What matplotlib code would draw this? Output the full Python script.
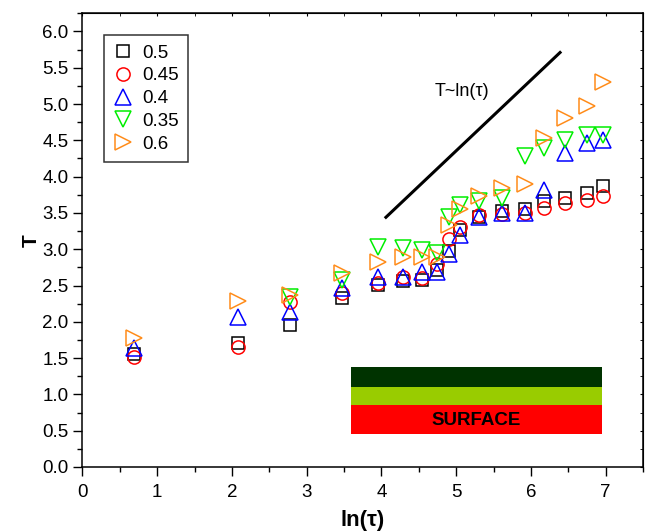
import numpy as np
import matplotlib.pyplot as plt
from matplotlib.patches import Rectangle
from matplotlib.ticker import MultipleLocator

plt.rcParams['font.family'] = ['Liberation Sans', 'DejaVu Sans']

# ln(tau) positions shared by every series
ln_tau = [0.69, 2.08, 2.77, 3.47, 3.95, 4.29, 4.54, 4.75, 4.91, 5.05,
          5.30, 5.61, 5.92, 6.17, 6.46, 6.75, 6.97]

nan = np.nan
T_050 = [1.55, 1.71, 1.96, 2.33, 2.51, 2.56, 2.57, 2.72, 2.97, 3.26,
         3.45, 3.52, 3.56, 3.66, 3.71, 3.77, 3.87]
T_045 = [1.51, 1.65, 2.27, 2.40, 2.54, 2.62, 2.60, 2.80, 3.14, 3.31,
         3.47, 3.48, 3.50, 3.57, 3.64, 3.68, 3.74]
T_040 = [1.64, 2.07, 2.14, 2.46, 2.62, 2.62, 2.69, 2.69, 2.94, 3.19,
         3.45, 3.50, 3.50, 3.81, 4.33, 4.46, 4.51]
T_035 = [nan, nan, 2.34, 2.58, 3.03, 3.02, 2.99, 2.95, 3.44, 3.61,
         3.67, 3.71, 4.28, 4.40, 4.51, 4.57, 4.58]
T_060 = [1.78, 2.28, 2.37, 2.67, 2.82, 2.89, 2.89, 2.89, 3.34, 3.55,
         3.74, 3.85, 3.90, 4.53, 4.81, 4.97, 5.30]

labels = ['0.5', '0.45', '0.4', '0.35', '0.6']

# guide line for T ~ ln(tau)
guide_x = [4.06, 6.39]
guide_y = [3.44, 5.71]

# layered surface sketch: (bottom, top, colour)
layers_x = [3.59, 6.95]
layers = [(0.455, 0.855, '#ff0000'),
          (0.855, 1.108, '#99cc00'),
          (1.108, 1.383, '#003300')]

fig = plt.figure(figsize=(6.48, 5.32), dpi=100)
ax = fig.add_axes([0.1273, 0.1222, 0.8650, 0.8528])

styles = [('s', 'black', 8.5), ('o', 'red', 9.5), ('^', 'blue', 11),
          ('v', '#00ee00', 11), ('>', '#ff8c1a', 11)]
series = [T_050, T_045, T_040, T_035, T_060]
for T, (m, c, ms), lab in zip(series, styles, labels):
    ax.plot(ln_tau, T, linestyle='none', marker=m, markersize=ms,
            markerfacecolor='none', markeredgecolor=c,
            markeredgewidth=1.1, label=lab)

ax.plot(guide_x, guide_y, color='black', linewidth=2.2)
ax.text(5.08, 5.17, 'T~ln(\u03c4)', fontsize=13, ha='center', va='center')

for y0, y1, col in layers:
    ax.add_patch(Rectangle((layers_x[0], y0), layers_x[1] - layers_x[0],
                           y1 - y0, facecolor=col, edgecolor='none'))
ax.text(sum(layers_x) / 2, (layers[0][0] + layers[0][1]) / 2 - 0.01, 'SURFACE',
        fontsize=13.5, fontweight='bold', ha='center', va='center')

ax.set_xlim(0, 7.5)
ax.set_ylim(0, 6.25)
ax.xaxis.set_major_locator(MultipleLocator(1))
ax.xaxis.set_minor_locator(MultipleLocator(0.5))
ax.yaxis.set_major_locator(MultipleLocator(0.5))
ax.yaxis.set_minor_locator(MultipleLocator(0.25))
ax.set_xticks(range(8))
ax.set_yticks(np.arange(0, 6.01, 0.5))
ax.yaxis.set_major_formatter(plt.FormatStrFormatter('%.1f'))

ax.tick_params(which='major', direction='out', length=6.5, width=1,
               labelsize=13.5)
ax.tick_params(which='minor', direction='out', length=3.6, width=1)
ax.tick_params(axis='x', which='major', pad=5.5)
# tiny inward ticks on the top and right frame
sec_x = ax.secondary_xaxis('top')
sec_x.set_xticks(range(8))
sec_x.xaxis.set_minor_locator(MultipleLocator(0.5))
sec_x.tick_params(which='both', direction='in', length=2, labeltop=False)
sec_y = ax.secondary_yaxis('right')
sec_y.set_yticks(np.arange(0, 6.01, 0.5))
sec_y.yaxis.set_minor_locator(MultipleLocator(0.25))
sec_y.tick_params(which='both', direction='in', length=2, labelright=False)
for s in ax.spines.values():
    s.set_linewidth(1.1)

ax.set_xlabel('ln(\u03c4)', fontsize=16, fontweight='bold', labelpad=7)
ax.set_ylabel('T', fontsize=15, fontweight='bold', labelpad=1)

leg = ax.legend(loc='upper left', bbox_to_anchor=(0.039, 0.952),
                borderaxespad=0, fontsize=13.5, frameon=True, fancybox=False,
                edgecolor='black', handlelength=1.0, handletextpad=0.5,
                labelspacing=0.3, borderpad=0.5)
leg.get_frame().set_linewidth(1.1)

fig.savefig('out.png', dpi=100)
